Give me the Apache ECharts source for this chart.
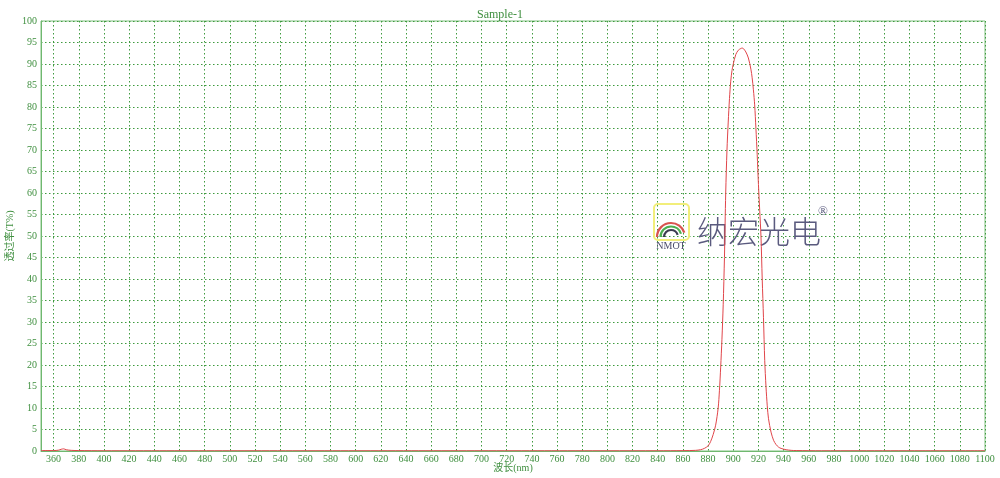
<!DOCTYPE html>
<html><head><meta charset="utf-8">
<script src="https://cdn.jsdelivr.net/npm/echarts@6/dist/echarts.min.js"></script>
<style>html,body{margin:0;padding:0;background:#fff}#c{width:1000px;height:478px}</style>
</head><body><div id="c"></div>
<script>
const title = 'Sample-1';
const xName = '波长(nm)';
const yName = '透过率(T%)';
const xTicks = [];
for (let v = 360; v <= 1100; v += 20) xTicks.push(v);
const wavelength = [350,360,364,366,368,370,374,380,400,450,500,550,600,650,700,750,800,840,860,870,874,877,880,882,884,886,888,889,890,891,892,893,894,895,896,897,898,899,900,902,904,906,907,908,910,912,914,915,916,917,918,919,920,921,922,923,924,925,926,927,928,930,932,934,936,938,942,946,950,970,1000,1050,1100];
const transmit   = [0.1,0.1,0.2,0.4,0.5,0.3,0.15,0.1,0.05,0.05,0.05,0.05,0.05,0.05,0.05,0.05,0.05,0.05,0.08,0.15,0.3,0.6,1.2,2.2,3.8,6,10,14,19.5,26,34,45,60,70,76.5,82,86,88.5,90,92.2,93.2,93.6,93.7,93.6,92.8,91.4,88.8,86.8,84,80.5,75,69,62,56,50,40,31,21,15,10.5,7.5,4.4,2.5,1.5,0.9,0.6,0.3,0.15,0.1,0.05,0.05,0.05,0.05];

const green = '#3f8f3f';
const gridGreen = '#3e9a3e';
const serif = '"Liberation Serif","Times New Roman",serif';
const chart = echarts.init(document.getElementById('c'));
chart.setOption({
  animation: false,
  backgroundColor: '#fff',
  title: {text: title, left: 'center', top: 4, textStyle: {color: green, fontSize: 12, fontWeight: 'normal', fontFamily: serif}},
  grid: {left: 41, right: 15, top: 21, bottom: 27, show: true, borderColor: '#80c080', borderWidth: 1, containLabel: false, outerBoundsMode: 'none'},
  xAxis: {
    type: 'value', min: 350, max: 1100,
    name: xName, nameLocation: 'middle', nameGap: 12, nameMoveOverlap: false,
    nameTextStyle: {color: green, fontSize: 10, fontFamily: serif + ',"Noto Sans CJK SC"'},
    axisLine: {lineStyle: {color: '#6fb86f', width: 1}},
    axisTick: {show: false, customValues: xTicks},
    axisLabel: {customValues: xTicks, color: green, fontSize: 10, fontFamily: serif, margin: 3, formatter: v => String(v)},
    splitLine: {show: true, customValues: xTicks, lineStyle: {color: gridGreen, type: [1.5, 2.5], width: 1}}
  },
  yAxis: {
    type: 'value', min: 0, max: 100, interval: 5,
    name: yName, nameLocation: 'middle', nameGap: 26, nameRotate: 90, nameMoveOverlap: false,
    nameTextStyle: {color: green, fontSize: 10, fontFamily: serif + ',"Noto Sans CJK SC"'},
    axisLine: {show: true, lineStyle: {color: '#6fb86f', width: 1}},
    axisTick: {show: false},
    axisLabel: {color: green, fontSize: 10, fontFamily: serif, margin: 4},
    splitLine: {show: true, lineStyle: {color: gridGreen, type: [1.5, 2.5], width: 1}}
  },
  graphic: [
    {type: 'rect', shape: {x: 654, y: 204, width: 35, height: 36, r: 4}, style: {fill: 'rgba(255,255,255,0)', stroke: '#f2ee7a', lineWidth: 2}, z: 5},
    {type: 'arc', shape: {cx: 671, cy: 237, r: 14, startAngle: Math.PI, endAngle: Math.PI * 1.9}, style: {fill: 'none', stroke: '#d9534f', lineWidth: 2.2}, z: 6},
    {type: 'arc', shape: {cx: 671, cy: 237, r: 10.5, startAngle: Math.PI, endAngle: Math.PI * 1.9}, style: {fill: 'none', stroke: '#4caf50', lineWidth: 2.2}, z: 6},
    {type: 'arc', shape: {cx: 671, cy: 237, r: 7, startAngle: Math.PI, endAngle: Math.PI * 1.9}, style: {fill: 'none', stroke: '#3c3c50', lineWidth: 2.2}, z: 6},
    {type: 'text', style: {x: 671, y: 246, text: 'NMOT', fill: '#4a4a6a', font: '10px ' + serif, align: 'center', verticalAlign: 'middle'}, z: 6},
    {type: 'text', style: {x: 759, y: 231, text: '纳宏光电', fill: '#5a5a7e', font: '300 31px "Noto Sans CJK SC"', align: 'center', verticalAlign: 'middle'}, z: 6},
    {type: 'text', style: {x: 823, y: 212, text: '®', fill: '#5a5a7e', font: '13px ' + serif, align: 'center', verticalAlign: 'middle'}, z: 6}
  ],
  series: [{
    type: 'line', symbol: 'none', smooth: 0.3,
    lineStyle: {color: '#e0454a', width: 1},
    data: wavelength.map((w, i) => [w, transmit[i]]),
    z: 10
  }]
});
</script></body></html>
